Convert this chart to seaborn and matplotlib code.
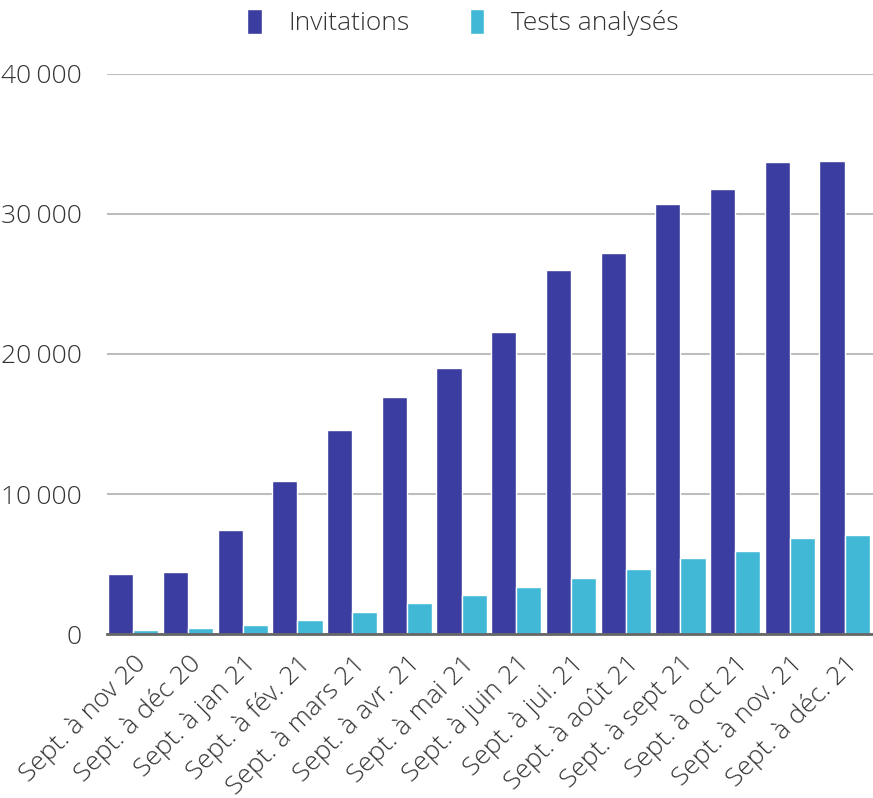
import warnings
warnings.filterwarnings("ignore")
import matplotlib
matplotlib.use("Agg")
import matplotlib.pyplot as plt
import matplotlib.ticker as mticker
import pandas as pd
import seaborn as sns

sns.set_style("white")
plt.rcParams['font.family'] = ['Open Sans', 'DejaVu Sans']

periodes = ['Sept. à nov 20', 'Sept. à déc 20', 'Sept. à jan 21', 'Sept. à fév. 21',
            'Sept. à mars 21', 'Sept. à avr. 21', 'Sept. à mai 21', 'Sept. à juin 21',
            'Sept. à jui. 21', 'Sept. à août 21', 'Sept. à sept 21', 'Sept. à oct 21',
            'Sept. à nov. 21', 'Sept. à déc. 21']
invitations = [4300, 4450, 7400, 10950, 14600, 16950, 19000, 21600,
               25980, 27200, 30680, 31750, 33680, 33750]
tests = [300, 450, 650, 970, 1570, 2200, 2800, 3350,
         3980, 4660, 5400, 5950, 6890, 7100]
series = ['Invitations', 'Tests analysés']
couleurs = ['#3b3ea0', '#42b8d7']

df = pd.DataFrame({
    'periode': periodes * 2,
    'valeur': invitations + tests,
    'serie': [series[0]] * len(periodes) + [series[1]] * len(periodes),
})

fig = plt.figure(figsize=(8.73, 7.98), dpi=100)
ax = fig.add_axes([0.1226, 0.2055, 0.8774, 0.7018])
sns.barplot(data=df, x='periode', y='valeur', hue='serie', hue_order=series,
            palette=couleurs, width=0.92, edgecolor='white', linewidth=1.0,
            saturation=1, ax=ax)

ax.set_ylim(0, 40000)
ax.set_xlim(-0.48, 13.52)
ax.yaxis.set_major_locator(mticker.MultipleLocator(10000))
ax.yaxis.set_major_formatter(mticker.FuncFormatter(
    lambda v, p: f'{int(v):,}'.replace(',', '\u200a\u200a')))
ax.grid(axis='y', color='#bdbdbd', linewidth=1.5)
ax.set_axisbelow(True)
for s in ['top', 'right', 'left']:
    ax.spines[s].set_visible(False)
ax.spines['bottom'].set_color('#666666')
ax.spines['bottom'].set_linewidth(2)
ax.tick_params(axis='y', length=0, pad=18, labelsize=19, labelcolor='#333333')
ax.tick_params(axis='x', length=0, pad=12, labelsize=19, labelcolor='#333333')
for lab in ax.get_yticklabels():
    lab.set_fontweight('light')
plt.setp(ax.get_xticklabels(), rotation=45, ha='right', rotation_mode='anchor',
         fontweight='light')
ax.set_xlabel('')
ax.set_ylabel('')

handles, labels = ax.get_legend_handles_labels()
ax.get_legend().remove()
leg = fig.legend(handles, labels, loc='center', bbox_to_anchor=(0.53, 0.972), ncol=2,
                 frameon=False, handlelength=0.55, handleheight=1.1, columnspacing=2.3,
                 handletextpad=1.0, prop={'size': 19, 'weight': 'light'})
for t in leg.get_texts():
    t.set_color('#333333')

fig.savefig('out.png', dpi=100)
